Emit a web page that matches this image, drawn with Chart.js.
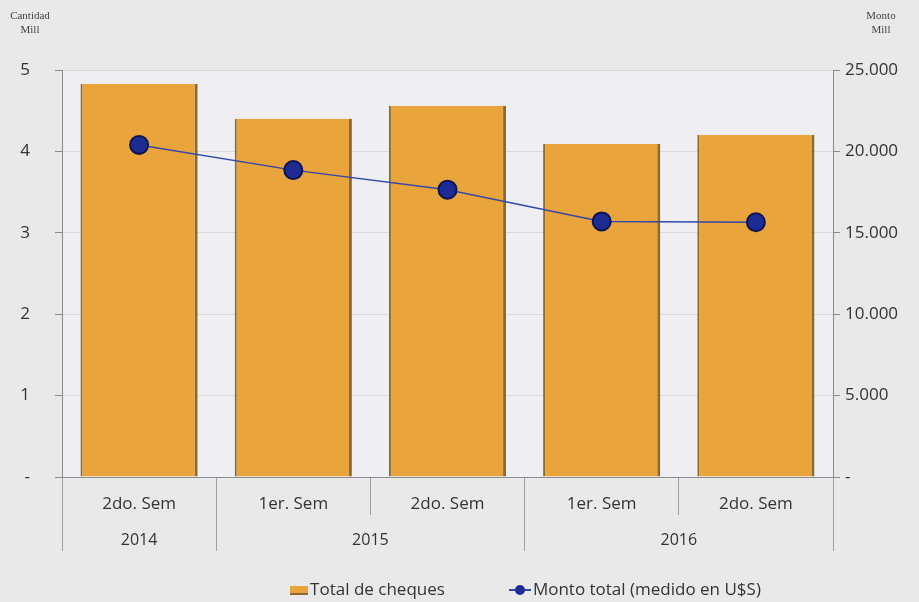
<!DOCTYPE html>
<html>
  <head>
    <script src="https://cdn.jsdelivr.net/npm/chart.js@4.4.1/dist/chart.umd.min.js"></script>
    <style>
      body { margin: 0; background: #e9e9e9; }
      #wrap { position: relative; width: 919px; height: 602px; }
      #legend {
        position: absolute; left: 66px; top: 577px; width: 919px;
        text-align: center; font: 17px "Open Sans", sans-serif; color: #333;
      }
      #legend span.item { display: inline-block; margin: 0 32px; }
      .swatch-bar {
        display: inline-block; width: 18px; height: 7px; background: #e9a43c;
        border-bottom: 2px solid #8a6a30; vertical-align: middle; margin-right: 2px;
      }
      .swatch-line { display: inline-block; position: relative; width: 22px; height: 10px; vertical-align: middle; margin-right: 2px; }
      .swatch-line:before { content: ""; position: absolute; left: 0; right: 0; top: 4px; height: 2px; background: #3448a8; }
      .swatch-line:after { content: ""; position: absolute; left: 6px; top: 0; width: 10px; height: 10px; border-radius: 50%; background: #1c2c94; }
    </style>
  </head>
  <body>
    <div id="wrap">
      <canvas id="chart-cheques" width="919" height="602"></canvas>
      <div id="legend"></div>
    </div>
    <script>
      // INPUT DATA

      const semestres = ["2do. Sem", "1er. Sem", "2do. Sem", "1er. Sem", "2do. Sem"];
      const anios = ["2014", "2015", "2016"];
      const semestresPorAnio = [1, 2, 2];
      const totalCheques = [4.83, 4.40, 4.56, 4.09, 4.20]; // millones
      const montoTotal = [20400, 18850, 17650, 15700, 15650]; // millones U$S

      const serieBarras = "Total de cheques";
      const serieLinea = "Monto total (medido en U$S)";

      // year groups: separators and label positions on a 0..n scale
      const limitesAnio = [0];
      const centrosAnio = [];
      semestresPorAnio.forEach(function (n) {
        const ini = limitesAnio[limitesAnio.length - 1];
        centrosAnio.push(ini + n / 2);
        limitesAnio.push(ini + n);
      });

      function miles(v) {
        return String(v).replace(/\B(?=(\d{3})+(?!\d))/g, ".");
      }

      // PLUGINS

      const fondoArea = {
        id: "fondoArea",
        beforeDraw(chart) {
          const a = chart.chartArea;
          const c = chart.ctx;
          c.save();
          c.fillStyle = "#efeff3";
          c.fillRect(a.left, a.top, a.right - a.left, a.bottom - a.top);
          c.restore();
        },
      };

      const titulosEjes = {
        id: "titulosEjes",
        afterDraw(chart) {
          const c = chart.ctx;
          const yl = chart.scales.y;
          const yr = chart.scales.y2;
          c.save();
          c.font = "11px 'Liberation Serif', serif";
          c.fillStyle = "#444";
          c.textAlign = "center";
          c.fillText("Cantidad", (yl.left + yl.right) / 2 - 1, 19);
          c.fillText("Mill", (yl.left + yl.right) / 2 - 1, 33);
          c.fillText("Monto", (yr.left + yr.right) / 2 + 5, 19);
          c.fillText("Mill", (yr.left + yr.right) / 2 + 5, 33);
          c.restore();
        },
      };

      // CHART

      const fuente = { family: "'Open Sans', sans-serif", size: 17 };

      new Chart(document.getElementById("chart-cheques").getContext("2d"), {
        type: "bar",
        data: {
          labels: semestres,
          datasets: [
            {
              type: "line",
              label: serieLinea,
              data: montoTotal,
              yAxisID: "y2",
              order: 0,
              borderColor: "#3448a8",
              borderWidth: 1.5,
              pointRadius: 9,
              pointBackgroundColor: "#1c2c94",
              pointBorderColor: "#0d1550",
              pointBorderWidth: 2,
            },
            {
              label: serieBarras,
              data: totalCheques,
              yAxisID: "y",
              order: 1,
              backgroundColor: "#e9a43c",
              borderColor: "#8a6a30",
              borderWidth: { left: 2, right: 3, top: 0, bottom: 0 },
              borderSkipped: false,
              barPercentage: 0.76,
              categoryPercentage: 1,
            },
          ],
        },
        options: {
          responsive: false,
          animation: false,
          layout: { padding: { top: 70, bottom: 51, left: 0, right: 0 } },
          plugins: { legend: { display: false }, tooltip: { enabled: false } },
          scales: {
            x: {
              position: "bottom",
              weight: 0,
              offset: true,
              afterFit: function (s) { s.height = 38; },
              border: { display: true, color: "#8c8c8c" },
              grid: { offset: true, drawOnChartArea: false, tickLength: 38, color: "#a0a0a0" },
              ticks: { padding: -21, color: "#333", font: fuente, maxRotation: 0 },
            },
            anio: {
              axis: "x",
              type: "linear",
              position: "bottom",
              weight: 1,
              min: 0,
              max: semestres.length,
              offset: false,
              afterFit: function (s) { s.height = 36; },
              afterBuildTicks: function (s) {
                s.ticks = limitesAnio.concat(centrosAnio)
                  .sort(function (a, b) { return a - b; })
                  .map(function (v) { return { value: v }; });
              },
              border: { display: false },
              grid: {
                offset: false,
                drawOnChartArea: false,
                tickLength: 36,
                color: function (c) {
                  return limitesAnio.includes(c.tick && c.tick.value) ? "#a0a0a0" : "rgba(0,0,0,0)";
                },
              },
              ticks: {
                padding: -20,
                autoSkip: false,
                maxRotation: 0,
                color: "#333",
                font: { family: "'Open Sans', sans-serif", size: 16 },
                callback: function (v) {
                  const i = centrosAnio.indexOf(v);
                  return i >= 0 ? anios[i] : "";
                },
              },
            },
            y: {
              position: "left",
              min: 0,
              max: 5,
              afterFit: function (s) { s.width = 62; },
              border: { display: true, color: "#8c8c8c" },
              grid: { color: "#d9d9dc", tickLength: 7, tickColor: "#8c8c8c" },
              ticks: {
                stepSize: 1,
                padding: 25,
                color: "#333",
                font: { family: "'Open Sans', sans-serif", size: 17 },
                callback: function (v) { return v === 0 ? "-" : v; },
              },
            },
            y2: {
              position: "right",
              min: 0,
              max: 25000,
              afterFit: function (s) { s.width = 86; },
              border: { display: true, color: "#8c8c8c" },
              grid: { drawOnChartArea: false, tickLength: 7, color: "#8c8c8c" },
              ticks: {
                stepSize: 5000,
                padding: 5,
                color: "#333",
                font: { family: "'Open Sans', sans-serif", size: 17 },
                callback: function (v) { return v === 0 ? "-" : miles(v); },
              },
            },
          },
        },
        plugins: [fondoArea, titulosEjes],
      });

      document.getElementById("legend").innerHTML =
        '<span class="item"><span class="swatch-bar"></span>' + serieBarras + "</span>" +
        '<span class="item"><span class="swatch-line"></span>' + serieLinea.replace("$", "&#36;") + "</span>";
    </script>
  </body>
</html>
